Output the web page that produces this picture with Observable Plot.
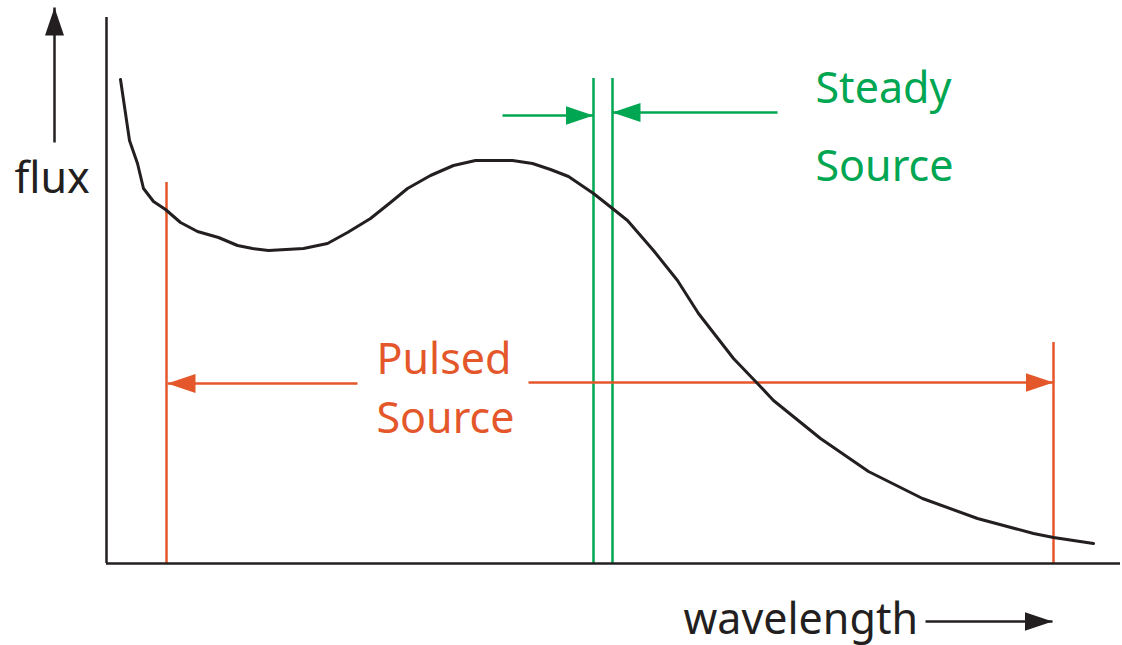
<!DOCTYPE html>
<html>
<head>
<meta charset="utf-8">
<script src="https://cdn.jsdelivr.net/npm/d3@7"></script>
<script src="https://cdn.jsdelivr.net/npm/@observablehq/plot@0.6"></script>
<style>
  html, body { margin: 0; padding: 0; background: #fff; }
  #chart svg { display: block; }
</style>
</head>
<body>
<div id="chart"></div>
<script>
// Curve samples: wavelength (arbitrary units from origin) and flux (arbitrary units above axis)
const curveWavelength = [14, 23, 31, 37, 47, 59, 74, 91, 112, 131, 146, 162, 197, 221, 241, 264, 284, 301, 324, 347, 369, 406, 426, 444, 462, 487, 506, 521, 547, 571, 592, 627, 651, 667, 714, 762, 816, 871, 927, 947, 987];
const curveFlux     = [484, 423, 400, 375, 362, 354, 341, 332, 326, 318, 315, 313, 315, 320, 331, 345, 361, 375, 388, 398, 403, 403, 400, 394, 387, 370, 355, 343, 313, 283, 250, 205, 180, 163, 125, 92, 65, 45, 30, 26, 20];

// Instrument bands
const pulsedBand = [60, 947];      // wavelength limits of pulsed source
const pulsedTop = [381, 221];      // heights of the band-limit lines
const steadyBand = [487, 506];     // wavelength limits of steady source
const steadyTop = 485;

const axisX = [0, 1014];
const axisY = [0, 546];

const labels = ["flux", "Steady", "Source", "Pulsed", "Source", "wavelength"];

const black = "#231f20";
const green = "#00a651";
const orange = "#e4572b";

const curve = curveWavelength.map((x, i) => ({x, y: curveFlux[i]}));

function tri(color, context) {
  const m = d3.create("svg:marker")
    .attr("viewBox", "-28 -10 28 20")
    .attr("markerWidth", 28)
    .attr("markerHeight", 20)
    .attr("markerUnits", "userSpaceOnUse")
    .attr("orient", "auto")
    .attr("refX", 0).attr("refY", 0);
  m.append("path").attr("d", "M0,0L-28,-9.5L-28,9.5Z").attr("fill", color).attr("stroke", "none");
  return m.node();
}

// arrows in data units
const greenArrows = [
  {x1: 396, y1: 448, x2: steadyBand[0], y2: 448},
  {x1: 671, y1: 451, x2: steadyBand[1], y2: 451}
];
const orangeArrows = [
  {x1: 251, y1: 180, x2: pulsedBand[0] + 1, y2: 180},
  {x1: 422, y1: 181, x2: pulsedBand[1], y2: 181}
];
const axisArrows = [
  {x1: -52, y1: 421, x2: -52, y2: 556},
  {x1: 819, y1: -58, x2: 946, y2: -58}
];

const textData = [
  {t: labels[0], x: -92, y: 371, c: black},
  {t: labels[1], x: 709, y: 461, c: green},
  {t: labels[2], x: 709, y: 383, c: green},
  {t: labels[3], x: 270, y: 190, c: orange},
  {t: labels[4], x: 270, y: 131, c: orange},
  {t: labels[5], x: 577, y: -70, c: black}
];

const plot = Plot.plot({
  width: 1122,
  height: 645,
  margin: 0,
  x: {domain: [-106, 1016], axis: null},
  y: {domain: [-82, 563], axis: null},
  style: {fontFamily: "Noto Sans"},
  marks: [
    Plot.ruleX(pulsedBand, {y1: 0, y2: (d, i) => pulsedTop[i], stroke: orange, strokeWidth: 2.5}),
    Plot.ruleX(steadyBand, {y1: 0, y2: steadyTop, stroke: green, strokeWidth: 2.5}),
    Plot.link(greenArrows, {x1: "x1", y1: "y1", x2: "x2", y2: "y2", stroke: green, strokeWidth: 2.5, markerEnd: tri}),
    Plot.link(orangeArrows, {x1: "x1", y1: "y1", x2: "x2", y2: "y2", stroke: orange, strokeWidth: 2.5, markerEnd: tri}),
    Plot.line(curve, {x: "x", y: "y", stroke: black, strokeWidth: 3}),
    Plot.ruleX([axisX[0]], {y1: axisY[0], y2: axisY[1], stroke: black, strokeWidth: 2.5}),
    Plot.ruleY([axisY[0]], {x1: axisX[0], x2: axisX[1], stroke: black, strokeWidth: 2.5}),
    Plot.link(axisArrows, {x1: "x1", y1: "y1", x2: "x2", y2: "y2", stroke: black, strokeWidth: 2.5, markerEnd: tri}),
    Plot.text(textData, {x: "x", y: "y", text: "t", fill: "c", textAnchor: "start", lineAnchor: "bottom", fontSize: 43})
  ]
});
document.getElementById("chart").appendChild(plot);
</script>
</body>
</html>
